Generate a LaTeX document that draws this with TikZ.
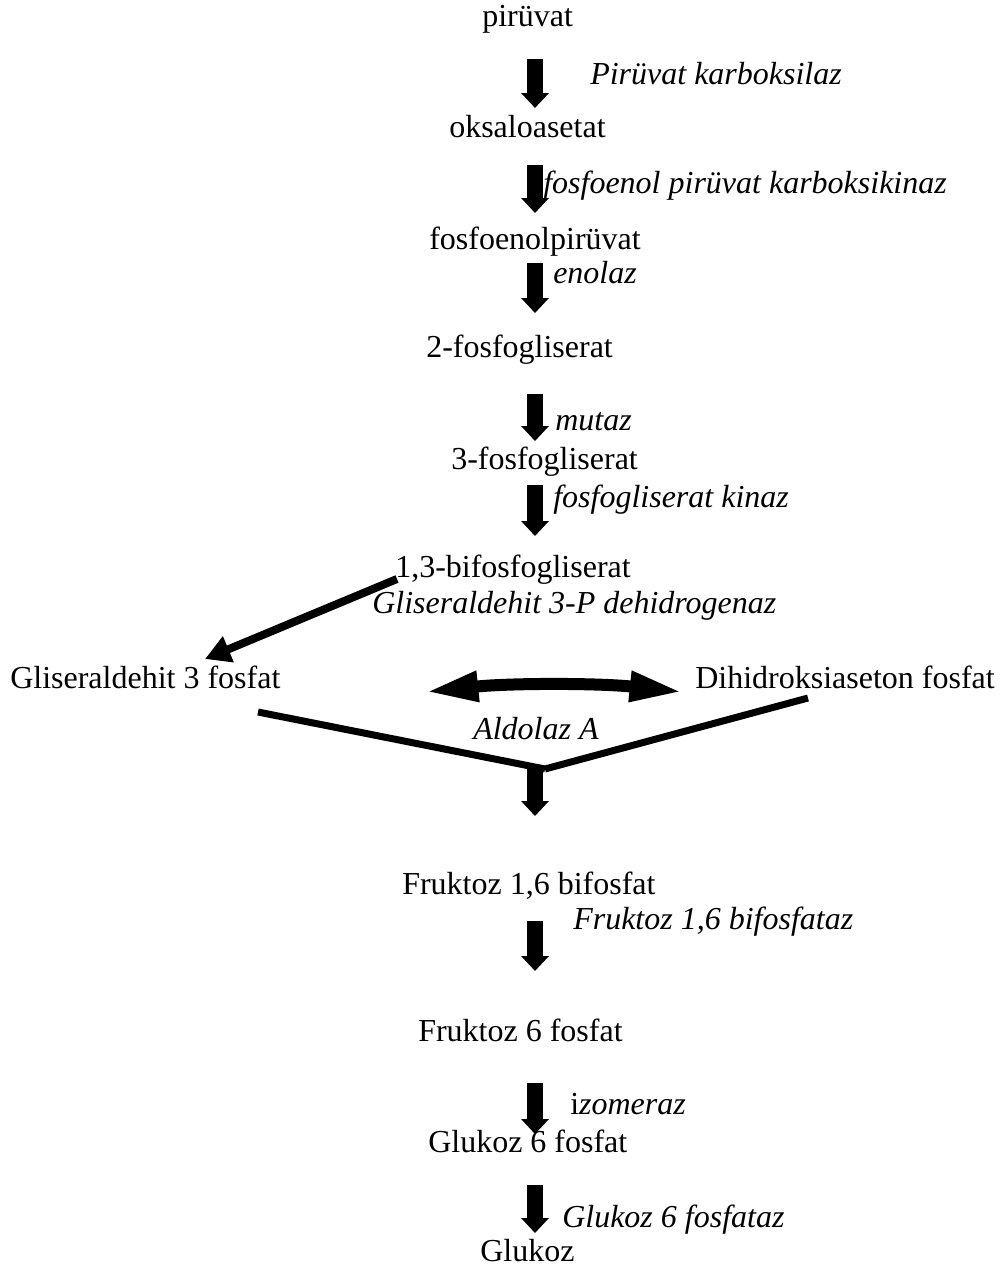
\documentclass[tikz,border=0pt]{standalone}
\usepackage{fontspec}
\setmainfont{Liberation Serif}
\usetikzlibrary{arrows.meta}

\begin{document}
\begin{tikzpicture}[x=0.75pt,y=-0.75pt,
    metab/.style={inner sep=0pt, anchor=base west, font=\fontsize{24}{28}\selectfont},
    enz/.style={inner sep=0pt, anchor=base west, font=\fontsize{24}{28}\selectfont\itshape},
    blk/.style={line width=12.5pt, -{Triangle[width=20.25pt,length=11.25pt]}},
    thk/.style={line width=5.25pt},
    thkarr/.style={line width=6pt, -{Triangle[width=20pt,length=19pt]}},
    dbl/.style={line width=9pt, {Triangle[width=21pt,length=40pt]}-{Triangle[width=21pt,length=40pt]}}
  ]
    \useasboundingbox (0,0) rectangle (1002,1271);

    % metabolites
    \node[metab] (pir)  at (482,26)   {pirüvat};
    \node[metab] (oaa)  at (449,137)  {oksaloasetat};
    \node[metab] (pep)  at (429,249)  {fosfoenolpirüvat};
    \node[metab] (pga2) at (426,357)  {2-fosfogliserat};
    \node[metab] (pga3) at (451,469)  {3-fosfogliserat};
    \node[metab] (bpg)  at (395,577)  {1,3-bifosfogliserat};
    \node[metab] (gap)  at (10,688)   {Gliseraldehit 3 fosfat};
    \node[metab] (dhap) at (695,688)  {Dihidroksiaseton fosfat};
    \node[metab] (fbp)  at (402,894)  {Fruktoz 1,6 bifosfat};
    \node[metab] (f6p)  at (418,1041) {Fruktoz 6 fosfat};
    \node[metab] (g6p)  at (428,1152) {Glukoz 6 fosfat};
    \node[metab] (glc)  at (480,1261) {Glukoz};

    % enzymes
    \node[enz] (pc)    at (590,84)   {Pirüvat karboksilaz};
    \node[enz] (pepck) at (543,193)  {fosfoenol pirüvat karboksikinaz};
    \node[enz] (eno)   at (553,283)  {enolaz};
    \node[enz] (mut)   at (555,430)  {mutaz};
    \node[enz] (pgk)   at (553,507)  {fosfogliserat kinaz};
    \node[enz] (gapdh) at (372,613)  {Gliseraldehit 3-P dehidrogenaz};
    \node[enz] (ald)   at (473,739)  {Aldolaz A};
    \node[enz] (fbpase) at (573,929) {Fruktoz 1,6 bifosfataz};
    \node[enz] (iso)   at (570,1114) {{\upshape i}zomeraz};
    \node[enz] (g6pase) at (562,1227) {Glukoz 6 fosfataz};

    % block arrows
    \foreach \ys/\ye [count=\i] in {59/108, 165/213, 263/313, 394/441, 485/536,
                                    768/816, 921/971, 1083/1134, 1185/1233}
      {
        \coordinate (s\i) at (535,\ys);
        \coordinate (t\i) at (535,\ye);
        \draw[blk] (s\i) -- (t\i);
      }

    \coordinate (bpgend) at (397,579);
    \coordinate (gaptip) at (205,659);
    \draw[thkarr] (bpgend) -- (gaptip);

    \coordinate (dl) at (425,692);
    \coordinate (dr) at (683,692);
    \draw[dbl] (dl) .. controls (510,683) and (598,683) .. (dr);

    % V join
    \coordinate (vl) at (258,712);
    \coordinate (vr) at (808,698);
    \coordinate (vb) at (545,769);
    \draw[thk] (vl) -- (vb);
    \draw[thk] (vr) -- (vb);
  \end{tikzpicture}
\end{document}
